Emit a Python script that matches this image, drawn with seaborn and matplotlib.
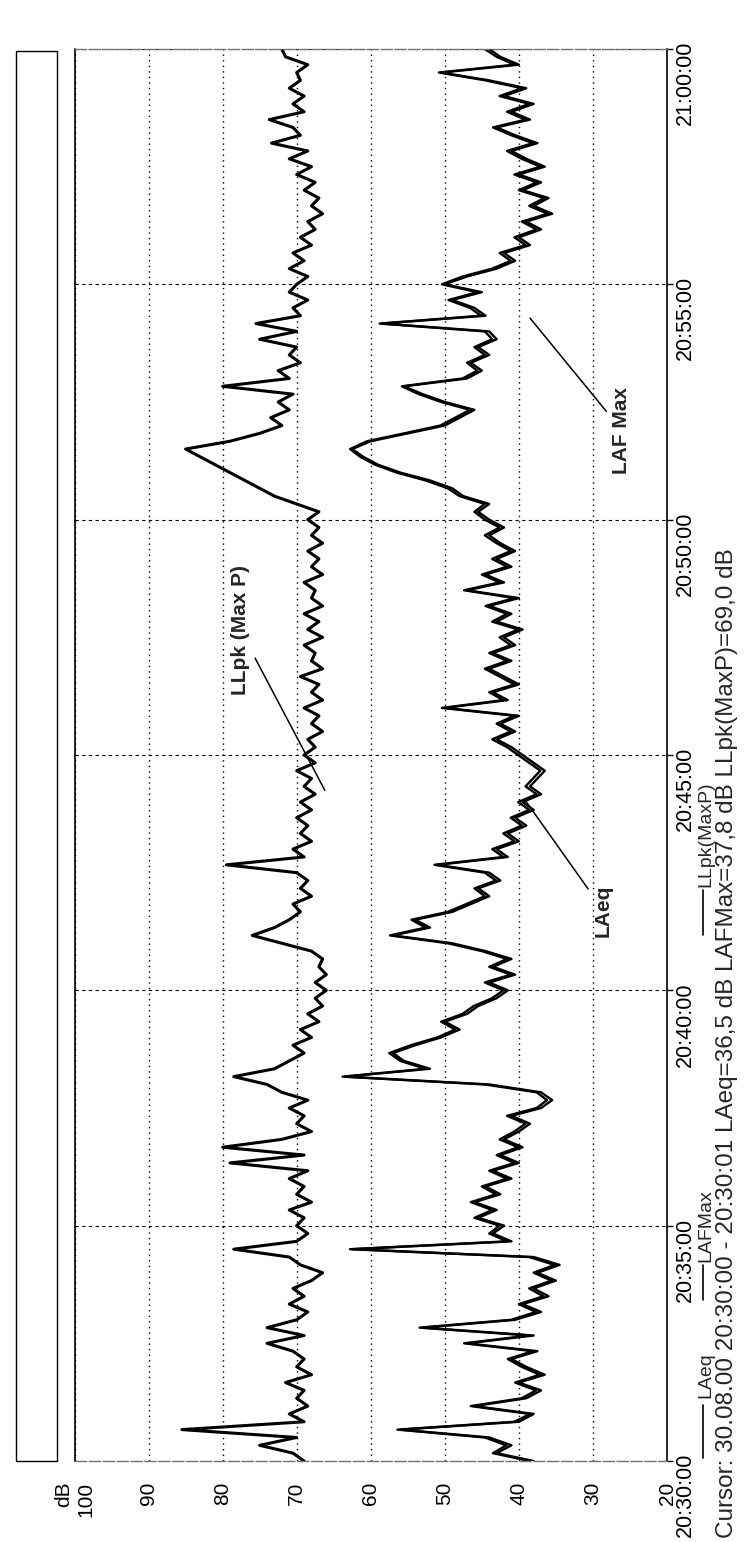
import numpy as np
import pandas as pd
import matplotlib
matplotlib.use("Agg")
import matplotlib.pyplot as plt
import seaborn as sns
from matplotlib.lines import Line2D
from matplotlib.patches import Rectangle

# seconds after 20:30:00, one reading every 10 s
secs = list(range(0, 1801, 10))

llpk = [69.0, 70.5, 75.0, 70.0, 85.5, 69.0, 71.0, 68.5, 70.0, 69.0,
        71.5, 68.0, 70.0, 69.0, 70.5, 74.0, 69.0, 74.0, 70.0, 68.5,
        71.0, 69.0, 70.5, 68.0, 66.5, 69.5, 71.0, 78.5, 70.0, 68.5,
        70.0, 69.0, 71.0, 68.0, 70.0, 69.0, 71.0, 68.5, 79.0, 69.0,
        80.0, 72.0, 68.0, 70.0, 69.0, 71.0, 68.5, 72.0, 74.0, 78.5,
        73.0, 71.0, 69.0, 70.5, 68.0, 69.5, 67.0, 68.5, 66.5, 67.5,
        66.0, 67.5, 66.0, 67.0, 66.5, 68.0, 72.0, 76.0, 73.0, 71.0,
        69.5, 70.5, 68.0, 69.5, 68.5, 70.0, 79.5, 69.0, 70.5, 68.0,
        69.5, 68.5, 70.0, 68.0, 69.5, 67.5, 69.0, 68.0, 70.0, 67.5,
        69.0, 67.5, 68.5, 66.5, 68.0, 67.0, 69.0, 66.5, 68.0, 67.0,
        69.5, 66.5, 68.0, 67.5, 69.0, 66.5, 68.5, 67.0, 69.0, 66.5,
        68.0, 67.5, 69.0, 66.5, 68.0, 67.0, 68.5, 66.5, 68.0, 67.0,
        68.5, 67.0, 70.0, 73.0, 75.0, 77.0, 79.0, 81.0, 83.0, 85.0,
        79.0, 75.0, 72.0, 73.5, 71.0, 72.5, 70.5, 80.0, 71.0, 72.5,
        69.5, 71.0, 70.0, 75.0, 70.0, 75.5, 69.5, 70.5, 68.5, 71.0,
        70.0, 68.5, 71.0, 69.0, 70.5, 68.0, 69.5, 67.5, 68.5, 66.5,
        68.0, 67.0, 69.0, 67.5, 70.0, 68.0, 71.0, 68.5, 73.4, 69.5,
        70.5, 73.7, 69.0, 70.5, 69.0, 71.0, 69.5, 70.0, 68.5, 71.5,
        72.0]

laeq = [38.0, 43.0, 41.0, 44.0, 56.0, 40.0, 38.0, 46.0, 39.0, 37.0,
        40.0, 36.5, 39.0, 41.0, 37.5, 47.0, 38.0, 53.0, 40.5, 37.0,
        39.5, 36.0, 38.0, 35.0, 37.5, 34.5, 38.0, 62.5, 41.0, 43.5,
        42.0, 45.5, 43.0, 46.0, 42.5, 44.5, 41.0, 43.5, 40.0, 42.5,
        39.5, 42.0, 40.0, 38.5, 41.0, 37.0, 35.5, 37.0, 44.0, 63.5,
        52.0, 55.5, 57.0, 54.0, 50.5, 48.0, 50.0, 47.0, 45.5, 43.0,
        41.5, 44.0, 40.5, 43.5, 41.0, 44.5, 49.0, 57.0, 52.0, 54.0,
        49.0, 46.5, 44.0, 45.5, 42.5, 44.0, 51.0, 41.5, 43.0, 40.0,
        41.5, 39.0, 40.5, 38.0, 39.5, 37.0, 38.5, 37.5, 36.5, 38.0,
        39.5, 41.0, 43.0, 40.5, 42.5, 40.0, 50.0, 41.5, 43.5, 40.0,
        42.0, 44.0, 41.0, 43.5, 40.5, 42.0, 39.5, 43.0, 41.0, 44.0,
        40.0, 47.0, 42.0, 44.5, 41.0, 43.0, 40.5, 42.5, 44.0, 42.0,
        44.0, 45.5, 44.0, 47.5, 49.0, 52.0, 56.0, 59.0, 61.0, 62.5,
        60.0, 55.0, 50.0, 48.0, 46.0, 50.0, 53.0, 55.5, 47.0, 45.0,
        46.5, 44.0, 45.5, 43.0, 44.0, 58.5, 44.5, 46.0, 49.0, 45.0,
        50.0, 47.0, 43.0, 40.5, 42.0, 38.5, 40.0, 37.0, 39.0, 35.5,
        38.0, 36.0, 39.5, 37.0, 40.0, 36.5, 39.0, 41.0, 37.5, 40.5,
        43.0, 38.5, 41.0, 38.0, 42.0, 39.0, 44.0, 50.5, 40.0, 42.5,
        44.0]

lafmax = [38.6, 43.5, 41.7, 44.6, 56.4, 40.6, 38.5, 46.5, 39.6, 37.7,
          40.5, 37.2, 39.6, 41.5, 38.1, 47.4, 38.6, 53.4, 41.0, 37.7,
          40.0, 36.7, 38.6, 35.6, 38.0, 35.2, 38.6, 62.8, 41.6, 44.0,
          42.6, 46.0, 43.6, 46.5, 43.1, 45.0, 41.6, 44.0, 40.6, 43.0,
          40.1, 42.6, 40.6, 39.1, 41.6, 37.6, 36.2, 37.6, 44.6, 63.8,
          52.6, 56.0, 57.5, 54.6, 51.0, 48.6, 50.5, 47.6, 46.1, 43.6,
          42.1, 44.6, 41.1, 44.0, 41.6, 45.0, 49.6, 57.4, 52.6, 54.5,
          49.6, 47.1, 44.6, 46.0, 43.1, 44.6, 51.4, 42.1, 43.6, 40.6,
          42.1, 39.6, 41.1, 38.6, 40.1, 37.6, 39.1, 38.1, 37.1, 38.6,
          40.1, 41.6, 43.6, 41.1, 43.0, 40.6, 50.4, 42.1, 44.0, 40.6,
          42.6, 44.6, 41.6, 44.0, 41.1, 42.6, 40.1, 43.6, 41.6, 44.5,
          40.6, 47.4, 42.6, 45.0, 41.6, 43.6, 41.1, 43.0, 44.6, 42.6,
          44.6, 46.0, 44.6, 48.0, 49.6, 52.6, 56.5, 59.4, 61.4, 62.8,
          60.5, 55.5, 50.6, 48.6, 46.6, 50.5, 53.5, 55.8, 47.6, 45.6,
          47.0, 44.6, 46.0, 43.6, 44.6, 58.8, 45.1, 46.6, 49.5, 45.6,
          50.4, 47.6, 43.6, 41.1, 42.6, 39.1, 40.6, 37.6, 39.6, 36.1,
          38.6, 36.6, 40.0, 37.6, 40.6, 37.1, 39.6, 41.6, 38.1, 41.0,
          43.5, 39.1, 41.6, 38.6, 42.6, 39.6, 44.5, 50.8, 40.6, 43.0,
          44.6]

db_ticks = [100, 90, 80, 70, 60, 50, 40, 30, 20]
db_labels = ["dB\n100", "90", "80", "70", "60", "50", "40", "30", "20"]
time_ticks = [0, 300, 600, 900, 1200, 1500, 1800]
time_labels = ["20:30:00", "20:35:00", "20:40:00", "20:45:00",
               "20:50:00", "20:55:00", "21:00:00"]

cursor_txt = ("Cursor: 30.08.00 20:30:00 - 20:30:01 LAeq=36,5 dB "
              "LAFMax=37,8 dB LLpk(MaxP)=69,0 dB")

df = pd.DataFrame({"t": secs, "LAeq": laeq, "LAFMax": lafmax, "LLpk(MaxP)": llpk})
largo = df.melt(id_vars="t", var_name="serie", value_name="dB")
bajo = largo[largo["serie"] != "LLpk(MaxP)"]
alto = largo[largo["serie"] == "LLpk(MaxP)"]

sns.set_style("white")
plt.rcParams["font.family"] = ["Liberation Sans", "DejaVu Sans"]

W, H = 744, 1542
fx = lambda px: px / W
fy = lambda py: 1 - py / H

fig = plt.figure(figsize=(W / 100, H / 100), dpi=100)
ax = fig.add_axes([fx(74.5), fy(1461), fx(667) - fx(74.5), fy(49) - fy(1461)])

sns.lineplot(data=bajo, x="dB", y="t", hue="serie", palette=["black"] * 2,
             orient="y", estimator=None, legend=False, lw=1.7, ax=ax)
sns.lineplot(data=alto, x="dB", y="t", color="black",
             orient="y", estimator=None, legend=False, lw=2.2, ax=ax)

ax.set_xlim(100, 20)
ax.set_ylim(0, 1800)
ax.set_xticks(db_ticks, db_labels)
ax.set_yticks(time_ticks, time_labels)
ax.set_xlabel("")
ax.set_ylabel("")
ax.yaxis.tick_right()
ax.tick_params(axis="x", labelrotation=90, labelsize=15, length=9, width=1,
               direction="out", pad=6, colors="black")
ax.tick_params(axis="y", labelrotation=90, labelsize=15.5, length=4, width=1,
               direction="out", pad=2, colors="black")
ax.get_xticklabels()[0].set_multialignment("right")

ax.grid(axis="x", color="black", ls=(0, (1, 3)), lw=1.0)
ax.grid(axis="y", color="black", ls=(0, (3, 3)), lw=0.8)

for s in ["left", "right"]:
    ax.spines[s].set_color("black")
    ax.spines[s].set_linewidth(1.2)
for s in ["top", "bottom"]:
    ax.spines[s].set_color("0.45")
    ax.spines[s].set_linewidth(1.0)
    ax.spines[s].set_linestyle((0, (8, 2)))

# etiquetas con linea
ax.annotate("LLpk (Max P)", xy=(66.2, 855), xytext=(77.6, 1059), rotation=90,
            ha="center", va="center", fontsize=15, fontweight="bold",
            arrowprops=dict(arrowstyle="-", color="black", lw=1.1, shrinkA=3, shrinkB=0))
ax.annotate("LAeq", xy=(39.2, 843), xytext=(28.6, 702), rotation=90,
            ha="center", va="center", fontsize=15, fontweight="bold",
            arrowprops=dict(arrowstyle="-", color="black", lw=1.1, shrinkA=3, shrinkB=0))
ax.annotate("LAF Max", xy=(38.5, 1457), xytext=(26.1, 1314), rotation=90,
            ha="center", va="center", fontsize=15, fontweight="bold",
            arrowprops=dict(arrowstyle="-", color="black", lw=1.1, shrinkA=3, shrinkB=0))

# caja de leyenda vacia a la izquierda
fig.add_artist(Rectangle((fx(16), fy(1461)), fx(57) - fx(16), fy(51) - fy(1461),
                         transform=fig.transFigure, fill=False, ec="black", lw=1.0))

# leyenda girada
for nombre, y0, y1, ty in [("LAeq", 1458, 1405, 1398),
                           ("LAFMax", 1300, 1265, 1262),
                           ("LLpk(MaxP)", 935, 890, 887)]:
    fig.add_artist(Line2D([fx(703), fx(703)], [fy(y0), fy(y1)], color="black", lw=1.2,
                          transform=fig.transFigure))
    fig.text(fx(706), fy(ty), nombre, rotation=90, ha="center", va="bottom", fontsize=14)

fig.text(fx(727), fy(1538), cursor_txt, rotation=90, ha="center", va="bottom", fontsize=17.5)

fig.savefig("out.png", dpi=100)
